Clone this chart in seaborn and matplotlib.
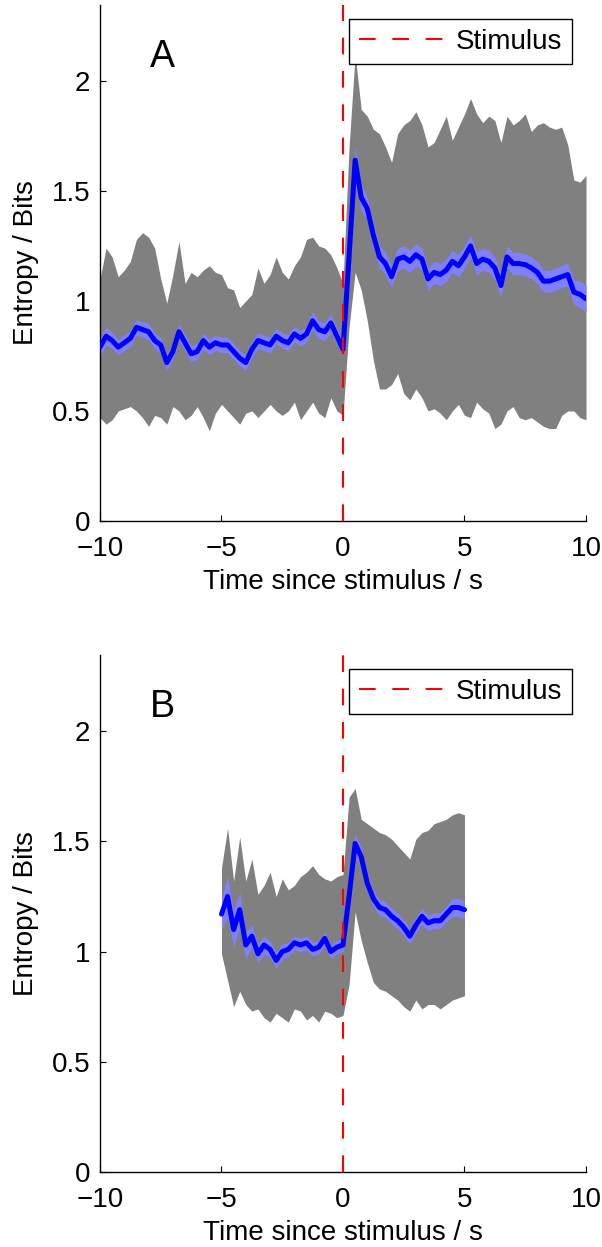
#!/usr/bin/env python3
"""Entropy around stimulus onset: mean, SEM band and spread band for two recordings."""

import numpy as np
import matplotlib

matplotlib.use("Agg")
import matplotlib.pyplot as plt
import seaborn as sns

# ---- panel A: time grid (s) and values (bits) ----
time_a = np.arange(-10, 10.001, 0.25)
mean_a = [
    0.79, 0.84, 0.82, 0.79, 0.81, 0.83, 0.88, 0.87, 0.86, 0.82,
    0.80, 0.72, 0.77, 0.86, 0.81, 0.76, 0.77, 0.82, 0.79, 0.81,
    0.80, 0.80, 0.77, 0.74, 0.72, 0.78, 0.82, 0.81, 0.80, 0.84,
    0.82, 0.81, 0.85, 0.83, 0.85, 0.91, 0.87, 0.86, 0.90, 0.84,
    0.78, 1.20, 1.64, 1.47, 1.42, 1.30, 1.20, 1.17, 1.11, 1.19,
    1.20, 1.18, 1.21, 1.19, 1.10, 1.13, 1.12, 1.14, 1.18, 1.16,
    1.20, 1.25, 1.17, 1.19, 1.18, 1.15, 1.07, 1.20, 1.17, 1.17,
    1.165, 1.15, 1.13, 1.09, 1.09, 1.10, 1.11, 1.12, 1.04, 1.03,
    1.01,
]
sem_a = [
    0.04, 0.04, 0.035, 0.035, 0.035, 0.035, 0.035, 0.035, 0.035, 0.035,
    0.035, 0.035, 0.035, 0.035, 0.035, 0.035, 0.035, 0.035, 0.035, 0.035,
    0.035, 0.035, 0.035, 0.035, 0.035, 0.035, 0.035, 0.035, 0.035, 0.035,
    0.035, 0.035, 0.035, 0.035, 0.035, 0.04, 0.04, 0.04, 0.04, 0.035,
    0.03, 0.05, 0.06, 0.06, 0.05, 0.05, 0.05, 0.05, 0.05, 0.05,
    0.05, 0.05, 0.05, 0.05, 0.05, 0.05, 0.05, 0.05, 0.05, 0.05,
    0.05, 0.05, 0.05, 0.05, 0.05, 0.05, 0.05, 0.05, 0.05, 0.05,
    0.05, 0.05, 0.05, 0.05, 0.05, 0.05, 0.05, 0.05, 0.055, 0.06,
    0.06,
]
upper_a = [
    1.10, 1.24, 1.20, 1.11, 1.14, 1.18, 1.28, 1.31, 1.29, 1.24,
    1.10, 0.99, 1.12, 1.27, 1.08, 1.13, 1.11, 1.14, 1.16, 1.13,
    1.12, 1.06, 1.05, 0.97, 1.00, 1.03, 1.15, 1.08, 1.12, 1.20,
    1.13, 1.10, 1.16, 1.20, 1.28, 1.29, 1.25, 1.24, 1.21, 1.15,
    1.08, 1.70, 2.12, 1.87, 1.84, 1.78, 1.76, 1.70, 1.63, 1.76,
    1.80, 1.82, 1.86, 1.80, 1.70, 1.72, 1.78, 1.84, 1.73, 1.79,
    1.85, 1.92, 1.85, 1.81, 1.84, 1.82, 1.72, 1.84, 1.80, 1.82,
    1.85, 1.77, 1.80, 1.81, 1.79, 1.78, 1.79, 1.71, 1.55, 1.54,
    1.57,
]
lower_a = [
    0.47, 0.44, 0.46, 0.50, 0.51, 0.52, 0.50, 0.47, 0.43, 0.48,
    0.47, 0.44, 0.52, 0.50, 0.46, 0.48, 0.52, 0.47, 0.41, 0.49,
    0.53, 0.50, 0.47, 0.44, 0.49, 0.50, 0.47, 0.50, 0.53, 0.50,
    0.48, 0.50, 0.54, 0.46, 0.50, 0.54, 0.49, 0.47, 0.56, 0.50,
    0.48, 0.88, 1.13, 1.05, 0.91, 0.73, 0.60, 0.60, 0.62, 0.67,
    0.58, 0.55, 0.60, 0.56, 0.50, 0.51, 0.49, 0.46, 0.50, 0.53,
    0.48, 0.47, 0.54, 0.51, 0.49, 0.42, 0.44, 0.50, 0.52, 0.47,
    0.46, 0.47, 0.45, 0.43, 0.42, 0.42, 0.48, 0.50, 0.50, 0.47,
    0.46,
]

# ---- panel B ----
time_b = np.arange(-5, 5.001, 0.25)
mean_b = [
    1.17, 1.25, 1.10, 1.19, 1.03, 1.07, 0.99, 1.03, 1.01, 0.96,
    1.00, 1.01, 1.04, 1.03, 1.04, 1.01, 1.02, 1.06, 1.00, 1.02,
    1.03, 1.25, 1.49, 1.43, 1.31, 1.24, 1.20, 1.19, 1.16, 1.14,
    1.11, 1.07, 1.12, 1.16, 1.13, 1.14, 1.14, 1.17, 1.20, 1.20,
    1.19,
]
sem_b = [
    0.07, 0.09, 0.08, 0.08, 0.06, 0.05, 0.04, 0.04, 0.035, 0.035,
    0.035, 0.03, 0.03, 0.03, 0.03, 0.03, 0.03, 0.03, 0.03, 0.03,
    0.03, 0.035, 0.04, 0.04, 0.035, 0.035, 0.035, 0.035, 0.035, 0.035,
    0.035, 0.035, 0.035, 0.035, 0.035, 0.035, 0.035, 0.035, 0.04, 0.04,
    0.04,
]
upper_b = [
    1.38, 1.56, 1.32, 1.52, 1.32, 1.42, 1.26, 1.30, 1.36, 1.25,
    1.33, 1.28, 1.30, 1.34, 1.36, 1.39, 1.35, 1.33, 1.32, 1.34,
    1.35, 1.70, 1.74, 1.60, 1.58, 1.56, 1.54, 1.53, 1.51, 1.48,
    1.45, 1.42, 1.51, 1.54, 1.55, 1.58, 1.59, 1.60, 1.62, 1.63,
    1.62,
]
lower_b = [
    0.99, 0.87, 0.75, 0.82, 0.76, 0.73, 0.74, 0.70, 0.68, 0.72,
    0.70, 0.68, 0.74, 0.73, 0.69, 0.71, 0.68, 0.73, 0.72, 0.70,
    0.71, 0.85, 1.18, 1.05, 0.95, 0.86, 0.83, 0.82, 0.80, 0.78,
    0.75, 0.73, 0.78, 0.74, 0.76, 0.76, 0.74, 0.76, 0.78, 0.79,
    0.80,
]

x_ticks = [-10, -5, 0, 5, 10]
y_ticks = [0, 0.5, 1, 1.5, 2]
y_tick_labels = ["0", "0.5", "1", "1.5", "2"]
panel_labels = ["A", "B"]

FS = 20


def draw_panel(ax, t, mean, sem, upper, lower, label):
    mean = np.asarray(mean)
    sem = np.asarray(sem)
    ax.fill_between(t, lower, upper, color="#808080", linewidth=0, zorder=1)
    ax.fill_between(t, mean - sem, mean + sem, color="#8080ff", linewidth=0, zorder=2)
    sns.lineplot(x=t, y=mean, color="#0000ff", linewidth=3.6, ax=ax, zorder=3)
    ax.axvline(0, color="#ff0000", linewidth=1.5, dashes=(8, 8), zorder=4,
               label="Stimulus")

    ax.set_xlim(-10, 10)
    ax.set_ylim(0, 2.345)
    ax.set_xticks(x_ticks)
    ax.set_yticks(y_ticks)
    ax.set_yticklabels(y_tick_labels)
    ax.set_xlabel("Time since stimulus / s", fontsize=FS, labelpad=5)
    ax.set_ylabel("Entropy / Bits", fontsize=FS, labelpad=9)
    ax.tick_params(axis="x", direction="in", length=4, width=0.8,
                   labelsize=FS, pad=11, colors="black")
    ax.tick_params(axis="y", direction="in", length=4, width=0.8,
                   labelsize=FS, pad=7, colors="black")
    for side in ("top", "right"):
        ax.spines[side].set_visible(False)
    for side in ("left", "bottom"):
        ax.spines[side].set_color("black")
        ax.spines[side].set_linewidth(1.0)
    ax.grid(False)

    ax.text(-7.45, 2.11, label, fontsize=27, ha="center", va="center",
            color="black")
    leg = ax.legend(loc="upper right", bbox_to_anchor=(0.971, 0.973),
                    borderaxespad=0, fontsize=FS, handlelength=3.1,
                    handletextpad=0.4, borderpad=0.35, fancybox=False,
                    framealpha=1, edgecolor="black")
    leg.get_frame().set_linewidth(1.0)
    for txt in leg.get_texts():
        txt.set_color("black")


def main():
    sns.set_style("ticks")
    plt.rcParams["font.family"] = ["Liberation Sans", "DejaVu Sans"]
    plt.rcParams["text.color"] = "black"
    plt.rcParams["axes.labelcolor"] = "black"

    fig = plt.figure(figsize=(6.02, 12.47), dpi=100)
    ax_a = fig.add_axes([0.1661, 0.5822, 0.8073, 0.4138])
    ax_b = fig.add_axes([0.1661, 0.0601, 0.8073, 0.4146])

    draw_panel(ax_a, time_a, mean_a, sem_a, upper_a, lower_a, panel_labels[0])
    draw_panel(ax_b, time_b, mean_b, sem_b, upper_b, lower_b, panel_labels[1])

    fig.savefig("out.png", dpi=100, facecolor="white")
    plt.close(fig)


if __name__ == "__main__":
    main()
